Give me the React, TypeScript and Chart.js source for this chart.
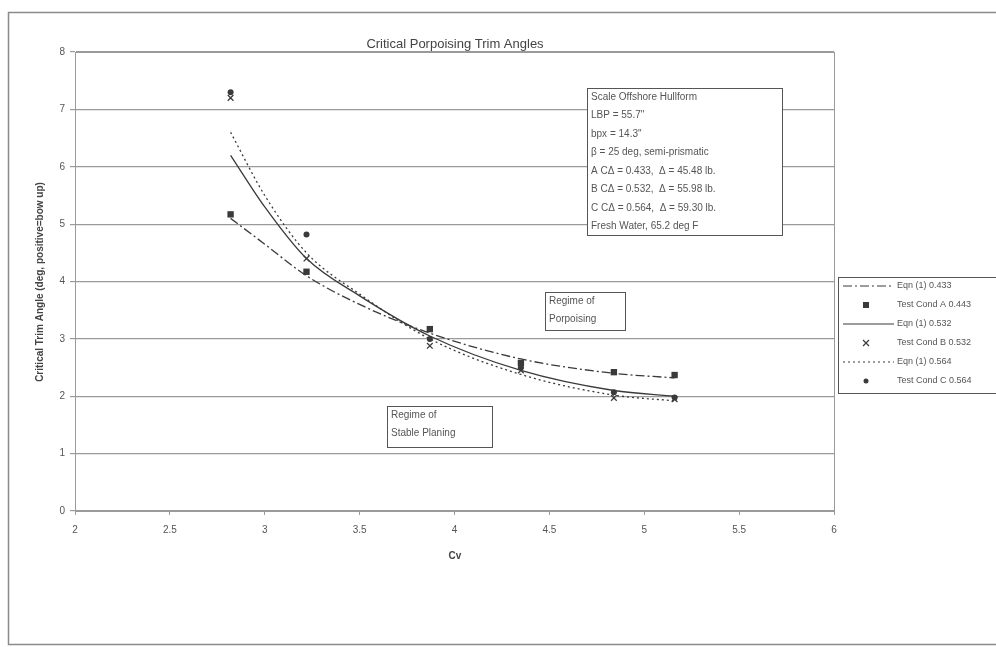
import React, { useEffect, useRef } from "react";
import { Chart, registerables } from "chart.js";

Chart.register(...registerables);

// ---- Data ----
const cvTest = [2.82, 3.22, 3.87, 4.35, 4.84, 5.16];
const testA = [5.17, 4.17, 3.17, 2.58, 2.42, 2.37];
const testB = [7.2, 4.4, 2.88, 2.45, 1.97, 1.95];
const testC = [7.3, 4.82, 3.0, 2.5, 2.07, 1.98];

const cvCurve = [2.82, 3.0, 3.22, 3.5, 3.87, 4.35, 4.84, 5.16];
const eqn433 = [5.1, 4.65, 4.1, 3.6, 3.1, 2.65, 2.4, 2.32];
const eqn532 = [6.2, 5.3, 4.4, 3.75, 3.05, 2.45, 2.1, 2.0];
const eqn564 = [6.6, 5.5, 4.5, 3.78, 3.0, 2.38, 2.02, 1.92];

const seriesLabels = [
  "Eqn (1) 0.433",
  "Test Cond A 0.443",
  "Eqn (1) 0.532",
  "Test Cond B 0.532",
  "Eqn (1) 0.564",
  "Test Cond C 0.564",
];

const infoLines = [
  "Scale Offshore Hullform",
  "LBP = 55.7\"",
  "bpx = 14.3\"",
  "β = 25 deg, semi-prismatic",
  "A CΔ = 0.433,  Δ = 45.48 lb.",
  "B CΔ = 0.532,  Δ = 55.98 lb.",
  "C CΔ = 0.564,  Δ = 59.30 lb.",
  "Fresh Water, 65.2 deg F",
];

const chartTitle = "Critical Porpoising Trim Angles";
const xTitle = "Cv";
const yTitle = "Critical Trim Angle (deg, positive=bow up)";
const porpoisingLabel = ["Regime of", "Porpoising"];
const stableLabel = ["Regime of", "Stable Planing"];

const FONT = "'Liberation Sans', Arial, sans-serif";
const INK = "#3a3a3a";
const TXT = "#555";
const GRID = "#9a9a9a";

const pts = (xs: number[], ys: number[]) => xs.map((x, i) => ({ x, y: ys[i] }));

const dashes: Record<string, number[]> = {
  d433: [9, 3, 2, 3],
  d532: [],
  d564: [2, 3],
};

export default function App() {
  const ref = useRef<HTMLCanvasElement>(null);

  useEffect(() => {
    if (!ref.current) return;

    const decor = {
      id: "decor",
      afterDraw(chart: any) {
        const ctx = chart.ctx as CanvasRenderingContext2D;
        const ca = chart.chartArea;
        ctx.save();
        // outer border
        ctx.strokeStyle = "#8a8a8a";
        ctx.lineWidth = 1.5;
        ctx.strokeRect(8.5, 12.5, 1000, 632);
        // plot border
        ctx.strokeStyle = GRID;
        ctx.lineWidth = 1;
        ctx.strokeRect(Math.round(ca.left) + 0.5, Math.round(ca.top) + 0.5, Math.round(ca.right - ca.left), Math.round(ca.bottom - ca.top));

        // title
        ctx.fillStyle = "#444";
        ctx.font = `13px ${FONT}`;
        ctx.textAlign = "center";
        ctx.textBaseline = "middle";
        ctx.fillText(chartTitle, 455, 44);

        // axis titles
        ctx.font = `bold 10px ${FONT}`;
        ctx.fillText(xTitle, 455, 556);
        ctx.save();
        ctx.translate(40, 282);
        ctx.rotate(-Math.PI / 2);
        ctx.fillText(yTitle, 0, 0);
        ctx.restore();

        // boxes
        const box = (x: number, y: number, w: number, h: number, lines: string[], lh: number, fs: number) => {
          ctx.fillStyle = "#fff";
          ctx.fillRect(x, y, w, h);
          ctx.strokeStyle = "#555";
          ctx.lineWidth = 1;
          ctx.strokeRect(x + 0.5, y + 0.5, w, h);
          ctx.fillStyle = TXT;
          ctx.font = `${fs}px ${FONT}`;
          ctx.textAlign = "left";
          ctx.textBaseline = "middle";
          lines.forEach((l, i) => ctx.fillText(l, x + 4, y + 9 + i * lh));
        };
        box(587, 88, 195, 147, infoLines, 18.5, 10);
        box(545, 292, 80, 38, porpoisingLabel, 18, 10);
        box(387, 406, 105, 41, stableLabel, 18, 10);

        // legend
        ctx.fillStyle = "#fff";
        ctx.fillRect(838, 277, 160, 116);
        ctx.strokeStyle = "#555";
        ctx.strokeRect(838.5, 277.5, 160, 116);
        const ds = chart.data.datasets;
        seriesLabels.forEach((lab, i) => {
          const y = 286 + i * 19;
          const d = ds[i];
          if (d.showLine) {
            ctx.strokeStyle = INK;
            ctx.lineWidth = 1.2;
            ctx.setLineDash(d.borderDash || []);
            ctx.beginPath();
            ctx.moveTo(843, y);
            ctx.lineTo(894, y);
            ctx.stroke();
            ctx.setLineDash([]);
          } else {
            ctx.fillStyle = INK;
            ctx.strokeStyle = INK;
            const cx = 866;
            if (d.pointStyle === "rect") {
              ctx.fillRect(cx - 3, y - 3, 6, 6);
            } else if (d.pointStyle === "crossRot") {
              ctx.lineWidth = 1.2;
              ctx.beginPath();
              ctx.moveTo(cx - 3, y - 3);
              ctx.lineTo(cx + 3, y + 3);
              ctx.moveTo(cx + 3, y - 3);
              ctx.lineTo(cx - 3, y + 3);
              ctx.stroke();
            } else {
              ctx.beginPath();
              ctx.arc(cx, y, 2.5, 0, Math.PI * 2);
              ctx.fill();
            }
          }
          ctx.fillStyle = TXT;
          ctx.font = `9px ${FONT}`;
          ctx.textAlign = "left";
          ctx.fillText(lab, 897, y);
        });
        ctx.restore();
      },
    };

    const lineDs = (label: string, ys: number[], dash: number[]) => ({
      label,
      data: pts(cvCurve, ys),
      showLine: true,
      borderColor: INK,
      borderWidth: 1.3,
      borderDash: dash,
      pointRadius: 0,
      cubicInterpolationMode: "monotone" as const,
      fill: false,
    });
    const markDs = (label: string, ys: number[], style: string, r: number) => ({
      label,
      data: pts(cvTest, ys),
      showLine: false,
      pointStyle: style,
      pointRadius: r,
      backgroundColor: INK,
      borderColor: INK,
      borderWidth: style === "crossRot" ? 1.3 : 0,
    });

    const chart = new Chart(ref.current, {
      type: "scatter",
      data: {
        datasets: [
          lineDs(seriesLabels[0], eqn433, dashes.d433),
          markDs(seriesLabels[1], testA, "rect", 4.5),
          lineDs(seriesLabels[2], eqn532, dashes.d532),
          markDs(seriesLabels[3], testB, "crossRot", 4),
          lineDs(seriesLabels[4], eqn564, dashes.d564),
          markDs(seriesLabels[5], testC, "circle", 3),
        ] as any,
      },
      options: {
        animation: false,
        responsive: false,
        maintainAspectRatio: false,
        layout: { padding: { left: 0, top: 52, right: 162, bottom: 0 } },
        plugins: {
          legend: { display: false },
          title: { display: false },
          tooltip: { enabled: false },
        },
        scales: {
          x: {
            type: "linear",
            min: 2,
            max: 6,
            afterFit: (s: any) => {
              s.height = 136;
            },
            ticks: {
              stepSize: 0.5,
              color: TXT,
              font: { family: FONT, size: 10 },
              padding: 9,
              maxRotation: 0,
              callback: (v: any) => String(Number(v)),
            },
            grid: { drawOnChartArea: false, drawTicks: true, tickLength: 4, color: GRID },
            border: { color: "#666" },
          },
          y: {
            type: "linear",
            min: 0,
            max: 8,
            afterFit: (s: any) => {
              s.width = 75;
            },
            ticks: {
              stepSize: 1,
              color: TXT,
              font: { family: FONT, size: 10 },
              padding: 5,
            },
            grid: { color: GRID, lineWidth: 1.2, tickLength: 5 },
            border: { color: "#666" },
          },
        },
      },
      plugins: [decor],
    });
    return () => chart.destroy();
  }, []);

  return (
    <div style={{ position: "absolute", left: 0, top: 0, width: 996, height: 647, background: "#fff" }}>
      <canvas ref={ref} width={996} height={647} style={{ display: "block" }} />
    </div>
  );
}
